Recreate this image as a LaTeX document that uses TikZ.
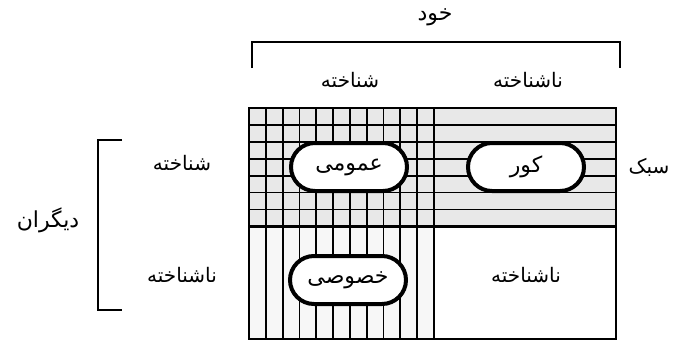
\documentclass[tikz,border=0pt]{standalone}
\usepackage{fontspec}
\TeXXeTstate=1
\newfontfamily\arabicfont[Script=Arabic]{DejaVu Sans}
\newcommand{\fa}[1]{{\arabicfont\beginR #1\endR}}
\begin{document}
\begin{tikzpicture}[x=1pt,y=-1pt,
  lbl/.style={inner sep=0pt,font=\fontsize{20}{24}\selectfont},
  pill/.style={draw,line width=4pt,fill=white,rounded corners=24pt,
     minimum width=116pt,minimum height=48pt,inner sep=0pt,font=\fontsize{22}{26}\selectfont},
  gridline/.style={line width=1.8pt},
  frame/.style={line width=2.3pt},
  brk/.style={line width=2.3pt}]
\useasboundingbox (0,0) rectangle (681,341);
% shading
\fill[black!9] (249,108) rectangle (616,226.4);
\fill[black!3] (249,226.4) rectangle (434,339);
% horizontal lines top half
\foreach \j in {1,...,6}{
  \draw[gridline] (249,{108+\j*16.91}) -- (616,{108+\j*16.91});
}
% vertical lines left half
\foreach \k in {1,...,10}{
  \draw[gridline] ({249+\k*16.82},108) -- ({249+\k*16.82},339);
}
% dividers and frame
\draw[frame] (249,226.4) -- (616,226.4);
\draw[frame] (434,108) -- (434,339);
\draw[frame] (249,108) rectangle (616,339);
% pills
\node[pill] (public) at (349,167) {\fa{عمومی}};
\node[pill] (blind) at (526,167) {\fa{کور}};
\node[pill] (private) at (348,280) {\fa{خصوصی}};
\node[lbl] (unk4) at (526,275) {\fa{ناشناخته}};
% top labels and bracket
\node[lbl,font=\fontsize{22}{26}\selectfont] (self) at (435,17) {\fa{خود}};
\draw[brk] (252,68) -- (252,42) -- (620,42) -- (620,68);
\node[lbl] (selfk) at (350,80) {\fa{شناخته}};
\node[lbl] (selfu) at (528,80) {\fa{ناشناخته}};
% left labels and bracket
\draw[brk] (122,140) -- (98,140) -- (98,310) -- (122,310);
\node[lbl] (othk) at (182,163) {\fa{شناخته}};
\node[lbl] (othu) at (182,275) {\fa{ناشناخته}};
\node[lbl,font=\fontsize{22}{26}\selectfont] (others) at (48,220) {\fa{دیگران}};
% right label
\node[lbl] (style) at (649,167) {\fa{سبک}};
\end{tikzpicture}
\end{document}
